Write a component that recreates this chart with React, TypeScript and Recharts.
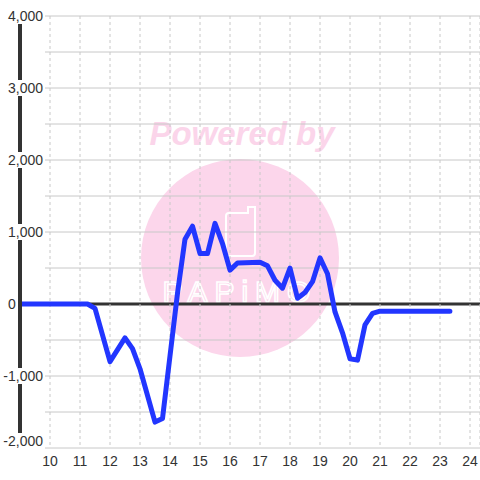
import { LineChart, Line, XAxis, YAxis, CartesianGrid } from "recharts";

const hours = [
  9, 11.25, 11.5, 12, 12.5, 12.75, 13, 13.5, 13.75, 14.25, 14.5, 14.75, 15, 15.25,
  15.5, 15.75, 16, 16.25, 17, 17.25, 17.5, 17.75, 18, 18.25, 18.5, 18.75, 19, 19.25,
  19.5, 19.75, 20, 20.25, 20.5, 20.75, 21, 23.33,
];
const values = [
  0, 0, -60, -800, -470, -620, -900, -1640, -1590, 150, 900, 1080, 700, 700,
  1120, 840, 470, 570, 580, 530, 330, 220, 500, 80, 160, 310, 640, 420,
  -110, -400, -760, -780, -290, -130, -100, -100,
];
const xTicks = [10, 11, 12, 13, 14, 15, 16, 17, 18, 19, 20, 21, 22, 23, 24];
const yTicks = [-2000, -1500, -1000, -500, 0, 500, 1000, 1500, 2000, 2500, 3000, 3500, 4000];

const data = hours.map((h, i) => ({ h, v: values[i] }));

const W = 480;
const H = 480;
const TOP = 16;
const AXIS_X = 20;
const PLOT_BOTTOM = 448;
const LABEL_RIGHT = 43;
const GRID_START = 45;

const charW = (s: string) =>
  [...s].reduce((w, c) => w + (c === "," ? 3.9 : c === "-" ? 4.7 : 7.8), 0);

function YTick(props: any) {
  const { y, payload } = props;
  const v = payload.value as number;
  if (v % 1000 !== 0) return <g />;
  const label = v.toLocaleString("en-US");
  const cy = Math.min(y, PLOT_BOTTOM - 7);
  const w = charW(label);
  const isZero = v === 0;
  const x0 = isZero ? 8 : LABEL_RIGHT - w;
  return (
    <g>
      <rect x={x0 - 1.5} y={cy - 8} width={w + 3} height={16} fill="#fff" />
      <text
        x={isZero ? x0 : LABEL_RIGHT}
        y={cy}
        dy="0.36em"
        textAnchor={isZero ? "start" : "end"}
        fill="#333"
        fontSize={14}
      >
        {label}
      </text>
    </g>
  );
}

function HLine(p: any) {
  const v = yTicks[p.index];
  if (v === 0) {
    return <line key={p.key} x1={p.x1} y1={p.y1} x2={p.x2} y2={p.y2} stroke="#333" strokeWidth={3} />;
  }
  return <line key={p.key} x1={GRID_START} y1={p.y1} x2={p.x2} y2={p.y2} stroke="#c8c8c8" strokeWidth={1} />;
}

function Watermark() {
  return (
    <svg width={W} height={H} style={{ position: "absolute", left: 0, top: 0 }}>
      <text
        x={242}
        y={145}
        textAnchor="middle"
        fontSize={33}
        fontWeight="bold"
        fontStyle="italic"
        fill="#fbd5ea"
      >
        Powered by
      </text>
      <circle cx={240} cy={258} r={99} fill="#fcd6eb" />
      <path
        d="M229 213 h19 v-6 h7 v46 a3 3 0 0 1 -3 3 h-23 a3 3 0 0 1 -3 -3 v-37 a3 3 0 0 1 3 -3 z"
        fill="none"
        stroke="#fff"
        strokeWidth={2}
      />
      <text
        x={240}
        y={302}
        textAnchor="middle"
        fontSize={30}
        letterSpacing={7}
        fill="none"
        stroke="#fff"
        strokeWidth={1.6}
      >
        PAPiMO
      </text>
    </svg>
  );
}

export default function App() {
  return (
    <div
      style={{
        position: "absolute",
        left: 0,
        top: 0,
        width: W,
        height: H,
        background: "#fff",
        fontFamily: "'Liberation Sans', Arial, sans-serif",
      }}
    >
      <Watermark />
      <div style={{ position: "absolute", left: 0, top: 0 }}>
        <LineChart width={W} height={H} data={data} margin={{ top: TOP, right: 0, left: 0, bottom: 0 }}>
          <CartesianGrid vertical={false} horizontal={HLine} />
          <CartesianGrid horizontal={false} stroke="#c8c8c8" strokeDasharray="3 3" />
          <XAxis
            dataKey="h"
            type="number"
            domain={[9, 9 + (W - AXIS_X) / 30]}
            ticks={xTicks}
            allowDataOverflow
            axisLine={false}
            tickLine={false}
            height={H - PLOT_BOTTOM}
            tick={{ fill: "#333", fontSize: 14 }}
            interval={0}
          />
          <YAxis
            type="number"
            domain={[-2000, 4000]}
            ticks={yTicks}
            width={AXIS_X}
            interval={0}
            tickLine={false}
            axisLine={{ stroke: "#333", strokeWidth: 4 }}
            tick={<YTick />}
          />
          <Line
            type="linear"
            dataKey="v"
            stroke="#2236ff"
            strokeWidth={5}
            strokeLinejoin="round"
            strokeLinecap="round"
            dot={false}
            isAnimationActive={false}
          />
        </LineChart>
      </div>
    </div>
  );
}
